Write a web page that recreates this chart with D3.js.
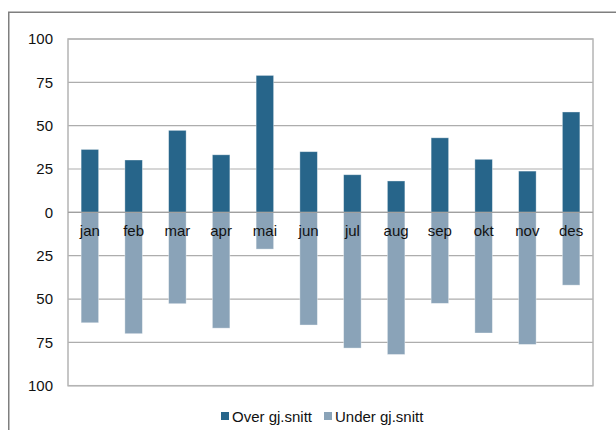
<!DOCTYPE html>
<html><head><meta charset="utf-8">
<script src="https://cdn.jsdelivr.net/npm/d3@7"></script>
<style>html,body{margin:0;padding:0;background:#fff;} svg{display:block;font-family:"Liberation Sans",Arial,Helvetica,sans-serif;}</style>
</head><body>
<svg id="c" width="616" height="430"></svg>
<script>
const months = ["jan","feb","mar","apr","mai","jun","jul","aug","sep","okt","nov","des"];
const over = [36.3, 30.2, 47.3, 33.2, 79.0, 35.0, 21.7, 18.1, 43.0, 30.6, 23.8, 57.9];
const under = [63.7, 70.0, 52.7, 66.8, 21.2, 65.0, 78.3, 82.0, 52.5, 69.6, 76.2, 42.0];
const yTicks = [-100, -75, -50, -25, 0, 25, 50, 75, 100];
const seriesNames = ["Over gj.snitt", "Under gj.snitt"];
const colors = ["#27658a", "#8aa3b8"];

const svg = d3.select("#c");
const L = 68, R = 593, T = 39, B = 385.7;

// outer border
svg.append("rect").attr("x", 8.75).attr("y", 12.25).attr("width", 700).attr("height", 500)
  .attr("fill", "none").attr("stroke", "#7f7f7f").attr("stroke-width", 1.5);

const x = d3.scaleBand().domain(months).range([L, R]).paddingInner(0.6).paddingOuter(0.3);
const y = d3.scaleLinear().domain([-100, 100]).range([B, T]);

// gridlines
svg.append("g").selectAll("line").data(yTicks).join("line")
  .attr("x1", L).attr("x2", R).attr("y1", d => y(d)).attr("y2", d => y(d))
  .attr("stroke", "#adadad").attr("stroke-width", 1.2);

// plot frame
svg.append("rect").attr("x", L).attr("y", T).attr("width", R - L).attr("height", B - T)
  .attr("fill", "none").attr("stroke", "#b4b4b4").attr("stroke-width", 1.5);

// y axis labels
const yAxis = d3.axisLeft(y).tickValues(yTicks).tickSize(0).tickPadding(15)
  .tickFormat(d => String(Math.abs(d)));
const ya = svg.append("g").attr("transform", `translate(${L},0)`).call(yAxis);
ya.select(".domain").remove();
ya.selectAll("text").attr("font-size", 15).attr("fill", "#111").attr("font-family", "Liberation Sans, Arial, sans-serif");

// bars
svg.append("g").selectAll("rect").data(months).join("rect")
  .attr("x", d => x(d)).attr("width", x.bandwidth())
  .attr("y", (d, i) => y(over[i])).attr("height", (d, i) => y(0) - y(over[i]))
  .attr("fill", colors[0]).attr("stroke", "rgba(255,255,255,0.45)").attr("stroke-width", 0.8);
svg.append("g").selectAll("rect").data(months).join("rect")
  .attr("x", d => x(d)).attr("width", x.bandwidth())
  .attr("y", y(0)).attr("height", (d, i) => y(-under[i]) - y(0))
  .attr("fill", colors[1]).attr("stroke", "rgba(255,255,255,0.45)").attr("stroke-width", 0.8);

// zero line over bars
svg.append("line").attr("x1", L).attr("x2", R).attr("y1", y(0)).attr("y2", y(0))
  .attr("stroke", "#a0a0a0").attr("stroke-width", 1.2);

// month labels
const xAxis = d3.axisBottom(x).tickSize(0).tickPadding(13);
const xa = svg.append("g").attr("transform", `translate(0,${y(0)})`).call(xAxis);
xa.select(".domain").remove();
xa.selectAll("text").attr("font-size", 15).attr("fill", "#111").attr("font-family", "Liberation Sans, Arial, sans-serif");

// legend
const lg = svg.append("g");
const lx = [221, 324];
seriesNames.forEach((n, i) => {
  lg.append("rect").attr("x", lx[i]).attr("y", 412).attr("width", 8).attr("height", 8).attr("fill", colors[i]);
  lg.append("text").attr("x", lx[i] + 11).attr("y", 421.5).attr("font-size", 15).attr("fill", "#111").text(n);
});
</script>
</body></html>
